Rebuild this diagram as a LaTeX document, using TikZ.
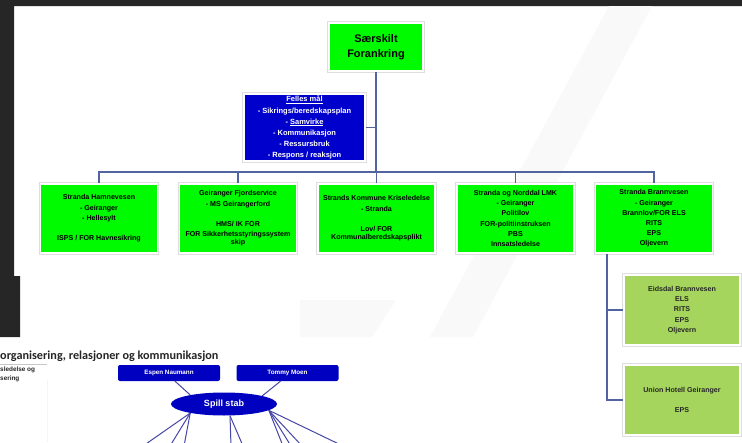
\documentclass[tikz,border=0pt]{standalone}
\usepackage{fontspec}
\setmainfont{Liberation Sans}
\newfontfamily\calibfont{Carlito}
\usetikzlibrary{shapes.geometric,calc}
\definecolor{bgdark}{RGB}{38,38,38}
\definecolor{brightgreen}{RGB}{0,250,0}
\definecolor{lightgreen}{RGB}{165,213,92}
\definecolor{boxblue}{RGB}{0,0,204}
\definecolor{linkblue}{RGB}{82,100,160}
\definecolor{stabblue}{RGB}{0,0,192}
\definecolor{stabline}{RGB}{70,70,168}
\definecolor{wmark}{RGB}{249,249,250}
\begin{document}
\begin{tikzpicture}[x=1pt,y=-1pt,
  framed/.style={rectangle, draw=white, line width=1.3pt, preaction={draw=black!13, line width=3.3pt}, inner sep=0pt, align=center},
  orgbox/.style={framed, fill=brightgreen, minimum width=117pt, minimum height=69pt, text=black, font=\fontsize{7.1}{10.2}\selectfont\bfseries},
  subbox/.style={framed, fill=lightgreen, minimum width=116pt, minimum height=70pt, text=black!85, font=\fontsize{7.1}{10.3}\selectfont\bfseries},
  topbox/.style={framed, fill=brightgreen, minimum width=94pt, minimum height=48pt, text=black, font=\fontsize{11}{15.5}\selectfont\bfseries},
  goalbox/.style={framed, fill=boxblue, minimum width=121pt, minimum height=67pt, text=white, font=\fontsize{7.5}{11.2}\selectfont\bfseries},
  link/.style={draw=linkblue, line width=1.8pt},
  pbox/.style={rectangle, rounded corners=2pt, fill=stabblue, minimum width=102pt, minimum height=16pt, inner sep=0pt, text=white, font=\fontsize{6.3}{7}\selectfont\bfseries},
  stabnode/.style={ellipse, fill=stabblue, minimum width=106pt, minimum height=23pt, inner sep=0pt, text=white, font=\fontsize{9}{10}\selectfont\bfseries},
  sline/.style={draw=stabline, line width=1pt}
]
\useasboundingbox (0,0) rectangle (742,442);
\fill[white] (0,0) rectangle (742,442);
% dark surroundings
\fill[bgdark] (0,0) -- (742,0) -- (742,6) -- (14,6) -- (14,276) -- (20,276) -- (20,337) -- (0,337) -- cycle;
% faint watermark
\fill[wmark] (609,6) -- (652,6) -- (473,337) -- (430,337) -- cycle;
\fill[wmark] (300,300) -- (396,300) -- (372,337) -- (300,337) -- cycle;
\draw[black!4, line width=0.6pt] (47,380) -- (47,442);

% top slide
\node[topbox] (top) at (376,47) {Særskilt\\Forankring};
\node[goalbox] (goal) at (304.5,127.5) {\underline{Felles mål}\\- Sikrings/beredskapsplan\\- \underline{Samvirke}\\- Kommunikasjon\\- Ressursbruk\\- Respons / reaksjon};

\node[orgbox] (b1) at (99,218.5) {Stranda Hamnevesen\\- Geiranger\\- Hellesylt\\[10.2pt]ISPS / FOR Havnesikring};
\node[orgbox] (b2) at (238,218.5) {Geiranger Fjordservice\\- MS Geirangerford\\[10.2pt]HMS/ IK FOR\\FOR Sikkerhetsstyringssystem\\[-2pt]skip};
\node[orgbox] (b3) at (376.5,218.5) {Strands Kommune Kriseledelse\\- Stranda\\[10.2pt]Lov/ FOR\\[-2pt]Kommunalberedskapsplikt};
\node[orgbox] (b4) at (515.5,218.5) {Stranda og Norddal LMK\\- Geiranger\\Politilov\\FOR-politiinstruksen\\PBS\\Innsatsledelse};
\node[orgbox] (b5) at (654,218.5) {Stranda Brannvesen\\- Geiranger\\Brannlov/FOR ELS\\RITS\\EPS\\Oljevern};

\node[subbox] (eids) at (682,310) {Eidsdal Brannvesen\\ELS\\RITS\\EPS\\Oljevern};
\node[subbox] (union) at (682,400) {Union Hotell Geiranger\\[10.3pt]EPS};

\coordinate (busy) at (0,172);
\draw[link] (top.south) -- (top.south |- busy);
\draw[link] (goal.east) -- (goal.east -| top.south);
\draw[link] (b1.north) -- (b1.north |- busy) -| (b5.north);
\draw[link] (b2.north) -- (b2.north |- busy);
\draw[link] (b3.north) -- (b3.north |- busy);
\draw[link] (b4.north) -- (b4.north |- busy);
\coordinate (v5) at ($(b5.south west)+(12.5,0)$);
\draw[link] (v5) |- (union.west);
\draw[link] (v5 |- eids.west) -- (eids.west);

% second slide
\node[anchor=west, inner sep=0pt, text=black!85, font=\calibfont\bfseries\fontsize{12.2}{14}\selectfont] (title) at (0,356) {organisering, relasjoner og kommunikasjon};
\draw[black!22, line width=0.5pt] (0,364.5) -- (47,364.5);
\node[anchor=north west, inner sep=0pt, align=left, text=black!85, font=\fontsize{6.4}{8.5}\selectfont\bfseries] (sub) at (0,367) {sledelse og\\sering};

\node[pbox] (espen) at (169,373) {Espen Naumann};
\node[pbox] (tommy) at (287.5,373) {Tommy Moen};
\node[stabnode] (stab) at (224,404) {Spill stab};

\draw[sline] ($(espen.south)+(6,0)$) -- (stab.165);
\draw[sline] ($(tommy.south)+(-7,0)$) -- (stab.12);

\foreach \x [count=\i] in {143,170,184} {\coordinate (ll\i) at (\x,446);}
\foreach \x [count=\i] in {231,243} {\coordinate (lc\i) at (\x,446);}
\foreach \x [count=\i] in {283,291,302,343} {\coordinate (lr\i) at (\x,446);}
\foreach \i in {1,2,3} {\draw[sline] (stab.195) -- (ll\i);}
\foreach \i in {1,2} {\draw[sline] ($(stab.south)+(6,0)$) -- (lc\i);}
\foreach \i in {1,2,3,4} {\draw[sline] (stab.352) -- (lr\i);}
\end{tikzpicture}
\end{document}
